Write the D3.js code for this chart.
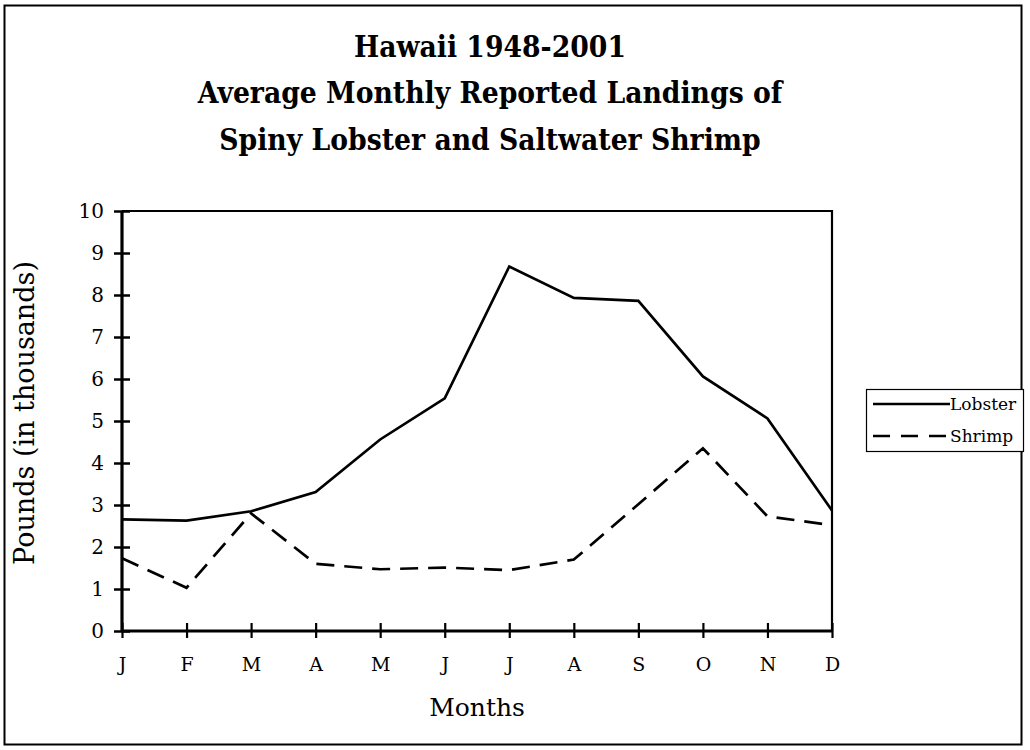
<!DOCTYPE html>
<html>
<head>
<meta charset="utf-8">
<script src="https://cdn.jsdelivr.net/npm/d3@7"></script>
<style>
  body { margin: 0; background: #fff; }
  text { font-family: "DejaVu Serif", serif; fill: #000; }
</style>
</head>
<body>
<svg id="chart"></svg>
<script>
// Data (thousands of pounds)
const months = ["J", "F", "M", "A", "M", "J", "J", "A", "S", "O", "N", "D"];
const lobster = [2.66, 2.63, 2.85, 3.31, 4.56, 5.54, 8.68, 7.93, 7.86, 6.06, 5.06, 2.87];
const shrimp = [1.73, 1.03, 2.80, 1.60, 1.47, 1.51, 1.45, 1.70, 3.02, 4.35, 2.73, 2.52];
const yTicks = [0, 1, 2, 3, 4, 5, 6, 7, 8, 9, 10];
const titleLines = ["Hawaii 1948-2001", "Average Monthly Reported Landings of", "Spiny Lobster and Saltwater Shrimp"];

const dimensions = {
    width: 1030,
    height: 750,
    margin: { top: 211, right: 198, bottom: 119, left: 122 }
};
const innerW = dimensions.width - dimensions.margin.left - dimensions.margin.right;
const innerH = dimensions.height - dimensions.margin.top - dimensions.margin.bottom;

const root = d3.select("#chart")
    .attr("width", dimensions.width)
    .attr("height", dimensions.height);

// outer frame
root.append("rect")
    .attr("x", 4.5).attr("y", 5.5)
    .attr("width", 1017).attr("height", 739)
    .attr("fill", "none").attr("stroke", "#000").attr("stroke-width", 2);

// title (slightly condensed to get the taller letters of the original at the same width)
root.append("g")
    .attr("transform", "translate(490, 0) scale(0.89, 1)")
    .append("text")
    .attr("text-anchor", "middle")
    .style("font-weight", "bold")
    .style("font-size", "30px")
    .selectAll("tspan")
    .data(titleLines)
    .enter()
    .append("tspan")
    .attr("x", 0)
    .attr("y", (d, i) => 57 + i * 46.5)
    .text(d => d);

const svg = root.append("g")
    .attr("transform", `translate(${dimensions.margin.left}, ${dimensions.margin.top})`);

// index based point scale so repeated month letters stay distinct
const xScale = d3.scalePoint()
    .domain(d3.range(months.length))
    .range([0, innerW]);

const yScale = d3.scaleLinear()
    .domain([0, 10])
    .range([innerH, 0]);

// plot frame (top and right)
svg.append("path")
    .attr("d", `M0,0H${innerW}V${innerH}`)
    .attr("fill", "none")
    .attr("stroke", "#000")
    .attr("stroke-width", 2.2);

// y axis
const yAxis = svg.append("g")
    .call(d3.axisLeft(yScale).tickValues(yTicks).tickSize(8).tickPadding(10).tickFormat(d3.format("d")));
yAxis.select(".domain").attr("stroke-width", 3.2).attr("d", `M0,${innerH}V0`);
yAxis.selectAll(".tick line").attr("x2", 8).attr("x1", -8).attr("stroke-width", 2.5);
yAxis.selectAll(".tick text")
    .attr("x", -18)
    .style("font-family", "DejaVu Serif, serif")
    .style("font-size", "20px");

// x axis
const xAxis = svg.append("g")
    .attr("transform", `translate(0, ${innerH})`)
    .call(d3.axisBottom(xScale).tickSize(8).tickPadding(19).tickFormat(i => months[i]));
xAxis.select(".domain").attr("stroke-width", 3.2).attr("d", `M0,0H${innerW}`);
xAxis.selectAll(".tick line").attr("y1", -8).attr("y2", 7).attr("stroke-width", 2.2);
xAxis.selectAll(".tick text")
    .style("font-family", "DejaVu Serif, serif")
    .style("font-size", "19px");

// axis titles
svg.append("text")
    .attr("x", 477 - dimensions.margin.left)
    .attr("y", innerH + 85)
    .attr("text-anchor", "middle")
    .style("font-size", "25px")
    .text("Months");

svg.append("text")
    .attr("transform", `translate(-88, ${413 - dimensions.margin.top}) rotate(-90)`)
    .attr("text-anchor", "middle")
    .style("font-size", "27px")
    .text("Pounds (in thousands)");

// lines
const line = d3.line()
    .x((d, i) => xScale(i))
    .y(d => yScale(d));

svg.append("path")
    .datum(lobster)
    .attr("fill", "none")
    .attr("stroke", "#000")
    .attr("stroke-width", 2.7)
    .attr("d", line);

svg.append("path")
    .datum(shrimp)
    .attr("fill", "none")
    .attr("stroke", "#000")
    .attr("stroke-width", 2.7)
    .attr("stroke-dasharray", "18,10")
    .attr("d", line);

// legend
const legend = root.append("g")
    .attr("transform", "translate(866, 389)");

legend.append("rect")
    .attr("x", 0.5).attr("y", 0.5)
    .attr("width", 157).attr("height", 62)
    .attr("fill", "#fff").attr("stroke", "#000").attr("stroke-width", 1.2);

const legendItems = [
    { name: "Lobster", dash: null },
    { name: "Shrimp", dash: "17,11" }
];

const item = legend.selectAll(".legend")
    .data(legendItems)
    .enter()
    .append("g")
    .attr("class", "legend")
    .attr("transform", (d, i) => `translate(0, ${15 + i * 32})`);

item.append("line")
    .attr("x1", 7).attr("x2", 84)
    .attr("stroke", "#000").attr("stroke-width", 2.7)
    .attr("stroke-dasharray", d => d.dash);

item.append("text")
    .attr("x", 84)
    .attr("y", 6)
    .style("font-size", "17px")
    .text(d => d.name);
</script>
</body>
</html>
